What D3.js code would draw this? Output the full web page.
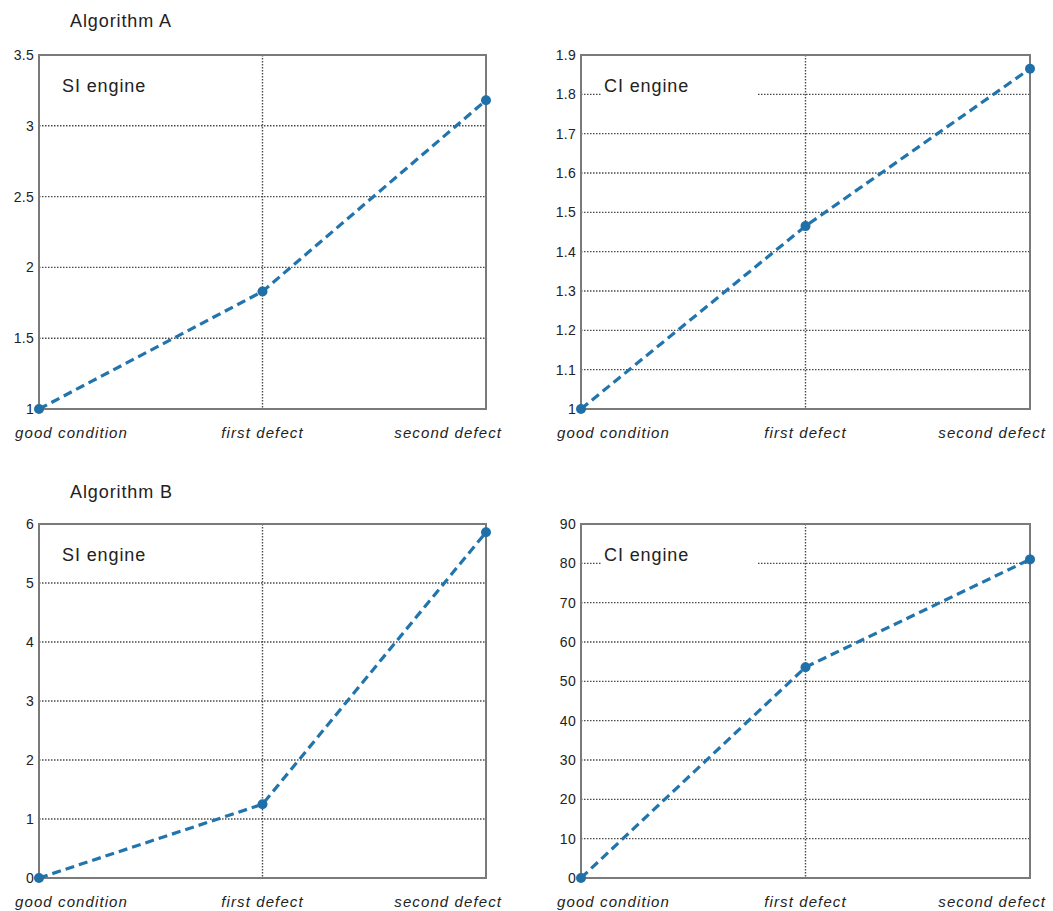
<!DOCTYPE html>
<html>
<head>
<meta charset="utf-8">
<script src="https://cdnjs.cloudflare.com/ajax/libs/d3/7.8.5/d3.min.js"></script>
<style>
  body { margin: 0; background: #fff; }
  svg { font-family: "Liberation Sans", Arial, sans-serif; }
</style>
</head>
<body>
<svg id="chart" width="1053" height="911"></svg>
<script>
// -- data -- //
const categories = ["good condition", "first defect", "second defect"];
const siA = [1, 1.83, 3.18];
const ciA = [1, 1.465, 1.865];
const siB = [0, 1.25, 5.86];
const ciB = [0, 53.6, 81];

const ticksSiA = [1, 1.5, 2, 2.5, 3, 3.5];
const ticksCiA = [1, 1.1, 1.2, 1.3, 1.4, 1.5, 1.6, 1.7, 1.8, 1.9];
const ticksSiB = [0, 1, 2, 3, 4, 5, 6];
const ticksCiB = [0, 10, 20, 30, 40, 50, 60, 70, 80, 90];

const groupTitles = ["Algorithm A", "Algorithm B"];

let svg = d3.select("#chart");

// -- one panel -- //
let drawPanel = (x0, x1, y0, y1, values, ticks, label) => {
    let g = svg.append("g");
    let xScale = d3.scalePoint().domain(categories).range([x0, x1]).padding(0);
    let yScale = d3.scaleLinear().domain([ticks[0], ticks[ticks.length - 1]]).range([y1, y0]);

    // -- dotted grid -- //
    g.selectAll(".hgrid")
        .data(ticks.slice(1, -1))
        .enter()
        .append("line")
        .attr("x1", x0).attr("x2", x1)
        .attr("y1", d => yScale(d)).attr("y2", d => yScale(d))
        .style("stroke", "#4a4a4a")
        .style("stroke-width", 1.4)
        .style("stroke-dasharray", "1.5,1.5");
    g.append("line")
        .attr("x1", xScale(categories[1])).attr("x2", xScale(categories[1]))
        .attr("y1", y0).attr("y2", y1)
        .style("stroke", "#4a4a4a")
        .style("stroke-width", 1.4)
        .style("stroke-dasharray", "1.5,1.5");

    // -- label box, hides grid behind it -- //
    g.append("rect")
        .attr("x", x0 + 21).attr("y", y0 + 16)
        .attr("width", 155).attr("height", 30)
        .style("fill", "#fff");
    g.append("text")
        .attr("x", x0 + 23).attr("y", y0 + 37)
        .text(label)
        .style("font-size", "18px")
        .style("letter-spacing", "0.9px")
        .style("fill", "#222");

    // -- frame -- //
    g.append("rect")
        .attr("x", x0).attr("y", y0)
        .attr("width", x1 - x0).attr("height", y1 - y0)
        .style("fill", "none")
        .style("stroke", "#7a7a7a")
        .style("stroke-width", 2);

    // -- y axis labels -- //
    let yAxis = d3.axisLeft(yScale).tickValues(ticks).tickSize(0).tickPadding(5)
        .tickFormat(d3.format("~g"));
    let ya = g.append("g")
        .attr("transform", `translate(${x0}, 0)`)
        .call(yAxis);
    ya.select(".domain").remove();
    ya.selectAll("text")
        .style("font-size", "14px")
        .style("letter-spacing", "0.3px")
        .style("fill", "#222")
        .style("font-family", "'Liberation Sans', Arial, sans-serif");

    // -- category labels -- //
    let anchors = ["start", "middle", "end"];
    let offsets = [-24, 0, 16];
    g.selectAll(".cat")
        .data(categories)
        .enter()
        .append("text")
        .attr("x", (d, i) => xScale(d) + offsets[i])
        .attr("y", y1 + 29)
        .attr("text-anchor", (d, i) => anchors[i])
        .text(d => d)
        .style("font-size", "15px")
        .style("letter-spacing", "1.1px")
        .style("font-style", "italic")
        .style("fill", "#222");

    // -- dashed line and markers -- //
    let line = d3.line()
        .x((d, i) => xScale(categories[i]))
        .y(d => yScale(d));
    g.append("path")
        .datum(values)
        .attr("d", line)
        .style("fill", "none")
        .style("stroke", "#2274ad")
        .style("stroke-width", 3.2)
        .style("stroke-dasharray", "9,5");
    g.selectAll(".pt")
        .data(values)
        .enter()
        .append("circle")
        .attr("cx", (d, i) => xScale(categories[i]))
        .attr("cy", d => yScale(d))
        .attr("r", 5)
        .style("fill", "#1f6fa8");
};

// -- group titles -- //
svg.selectAll(".title")
    .data(groupTitles)
    .enter()
    .append("text")
    .attr("x", 70)
    .attr("y", (d, i) => [27, 498][i])
    .text(d => d)
    .style("font-size", "18px")
    .style("letter-spacing", "0.9px")
    .style("fill", "#222");

drawPanel(39, 486, 55, 409, siA, ticksSiA, "SI engine");
drawPanel(581, 1030, 55, 409, ciA, ticksCiA, "CI engine");
drawPanel(39, 486, 524, 878, siB, ticksSiB, "SI engine");
drawPanel(581, 1030, 524, 878, ciB, ticksCiB, "CI engine");
</script>
</body>
</html>
